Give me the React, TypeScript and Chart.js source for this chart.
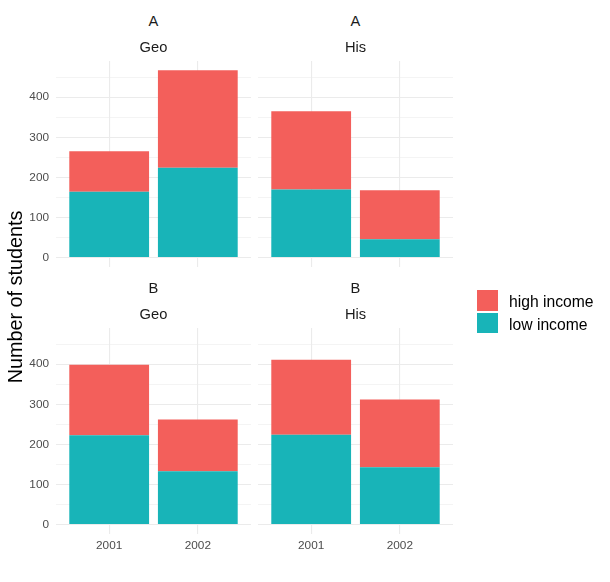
import React, { useEffect, useRef } from 'react';
import { Chart, registerables } from 'chart.js';

Chart.register(...registerables);

// ---- data ----
const years = ['2001', '2002'];
const groups = ['A', 'B'];
const subjects = ['Geo', 'His'];
const seriesNames = ['high income', 'low income'];

const lowAGeo = [164, 224];
const highAGeo = [101, 243];
const lowAHis = [170, 46];
const highAHis = [195, 122];
const lowBGeo = [223, 133];
const highBGeo = [176, 129];
const lowBHis = [224, 143];
const highBHis = [187, 169];

const yTickValues = [0, 50, 100, 150, 200, 250, 300, 350, 400, 450];
const yLabelStep = 100;

const RED = '#F35F5B';
const TEAL = '#18B4B8';
const FONT = '"Liberation Sans", Arial, Helvetica, sans-serif';

const allTotals = [
  ...highAGeo.map((v, i) => v + lowAGeo[i]),
  ...highAHis.map((v, i) => v + lowAHis[i]),
  ...highBGeo.map((v, i) => v + lowBGeo[i]),
  ...highBHis.map((v, i) => v + lowBHis[i]),
];
const dataMax = Math.max(...allTotals);
const Y_MIN = -0.05 * dataMax;
const Y_MAX = dataMax * 1.05;

const MARGIN = 20;
const XAXIS_H = 26;

type PanelProps = {
  low: number[];
  high: number[];
  showY: boolean;
  showX: boolean;
  left: number;
  top: number;
  width: number;
  height: number;
};

function Panel({ low, high, showY, showX, left, top, width, height }: PanelProps) {
  const ref = useRef<HTMLCanvasElement | null>(null);
  const canvasH = height + 2 * MARGIN + (showX ? XAXIS_H : 0);
  useEffect(() => {
    if (!ref.current) return;
    const chart = new Chart(ref.current, {
      type: 'bar',
      data: {
        datasets: [
          {
            label: seriesNames[1],
            data: years.map((_, i) => ({ x: i + 1, y: low[i] })),
            backgroundColor: TEAL,
            borderWidth: 0,
            stack: 's',
          },
          {
            label: seriesNames[0],
            data: years.map((_, i) => ({ x: i + 1, y: high[i] })),
            backgroundColor: RED,
            borderWidth: 0,
            stack: 's',
          },
        ],
      },
      options: {
        animation: false,
        responsive: false,
        maintainAspectRatio: false,
        layout: { padding: { top: MARGIN, bottom: MARGIN, left: 0, right: 0 } },
        datasets: { bar: { categoryPercentage: 1, barPercentage: 0.9 } },
        plugins: {
          legend: { display: false },
          tooltip: { enabled: false },
          title: { display: false },
        },
        scales: {
          x: {
            type: 'linear',
            min: 0.4,
            max: 2.6,
            offset: false,
            stacked: true,
            grid: { offset: false, color: '#EBEBEB', lineWidth: 1.1, drawTicks: false },
            border: { display: false },
            ticks: {
              display: showX,
              padding: 5,
              autoSkip: false,
              maxRotation: 0,
              color: '#4D4D4D',
              font: { family: FONT, size: 11.8 },
              callback: (v: any) => years[Math.round(Number(v)) - 1] ?? '',
            },
            afterBuildTicks: (s: any) => {
              s.ticks = years.map((_, i) => ({ value: i + 1 }));
            },
            afterFit: (s: any) => {
              s.height = showX ? XAXIS_H : 0;
            },
          },
          y: {
            type: 'linear',
            min: Y_MIN,
            max: Y_MAX,
            stacked: true,
            grid: {
              drawTicks: false,
              color: '#EBEBEB',
              lineWidth: (ctx: any) => (ctx.tick && ctx.tick.value % yLabelStep === 0 ? 1.1 : 0.55),
            },
            border: { display: false },
            ticks: {
              display: showY,
              padding: 7,
              autoSkip: false,
              color: '#4D4D4D',
              font: { family: FONT, size: 11.8 },
              callback: (v: any) => (Number(v) % yLabelStep === 0 ? String(v) : ''),
            },
            afterBuildTicks: (s: any) => {
              s.ticks = yTickValues.map((v) => ({ value: v }));
            },
            afterFit: (s: any) => {
              s.width = showY ? 56 : 0;
            },
          },
        },
      } as any,
    });
    return () => chart.destroy();
  }, []);
  return (
    <canvas
      ref={ref}
      width={width}
      height={canvasH}
      style={{ position: 'absolute', left, top: top - MARGIN, width, height: canvasH }}
    />
  );
}

const stripStyle = (left: number, top: number, width: number): React.CSSProperties => ({
  position: 'absolute',
  left,
  top,
  width,
  textAlign: 'center',
  fontFamily: FONT,
  fontSize: '14.7px',
  lineHeight: '15px',
  color: '#1A1A1A',
  whiteSpace: 'nowrap',
});

export default function App() {
  const leftPanel = { x: 56, w: 195 };
  const rightPanel = { x: 258, w: 195 };
  const rowTops = [61, 328];
  const panelH = 206;
  const panelsData = [
    [lowAGeo, highAGeo, lowAHis, highAHis],
    [lowBGeo, highBGeo, lowBHis, highBHis],
  ];
  return (
    <div
      style={{
        position: 'absolute',
        left: 0,
        top: 0,
        width: 610,
        height: 582,
        background: '#FFFFFF',
        overflow: 'hidden',
      }}
    >
      {groups.map((g, r) => {
        const top = rowTops[r];
        const showX = r === groups.length - 1;
        const d = panelsData[r];
        return (
          <React.Fragment key={g}>
            <Panel
              low={d[0]}
              high={d[1]}
              showY={true}
              showX={showX}
              left={0}
              top={top}
              width={leftPanel.x + leftPanel.w}
              height={panelH}
            />
            <Panel
              low={d[2]}
              high={d[3]}
              showY={false}
              showX={showX}
              left={rightPanel.x}
              top={top}
              width={rightPanel.w}
              height={panelH}
            />
            {subjects.map((s, c) => {
              const p = c === 0 ? leftPanel : rightPanel;
              return (
                <React.Fragment key={s}>
                  <div style={stripStyle(p.x, top - 47.5, p.w)}>{g}</div>
                  <div style={stripStyle(p.x, top - 21.2, p.w)}>{s}</div>
                </React.Fragment>
              );
            })}
          </React.Fragment>
        );
      })}

      <div
        style={{
          position: 'absolute',
          left: -185,
          top: 287,
          width: 400,
          height: 20,
          lineHeight: '20px',
          textAlign: 'center',
          fontFamily: FONT,
          fontSize: '19.8px',
          color: '#000000',
          transform: 'rotate(-90deg)',
          whiteSpace: 'nowrap',
        }}
      >
        Number of students
      </div>

      {seriesNames.map((name, i) => (
        <React.Fragment key={name}>
          <div
            style={{
              position: 'absolute',
              left: 477,
              top: i === 0 ? 290 : 313,
              width: 21,
              height: i === 0 ? 21 : 20,
              background: i === 0 ? RED : TEAL,
            }}
          />
          <div
            style={{
              position: 'absolute',
              left: 509,
              top: i === 0 ? 293.9 : 316.6,
              fontFamily: FONT,
              fontSize: '15.7px',
              lineHeight: '16px',
              color: '#000000',
              whiteSpace: 'nowrap',
            }}
          >
            {name}
          </div>
        </React.Fragment>
      ))}
    </div>
  );
}
